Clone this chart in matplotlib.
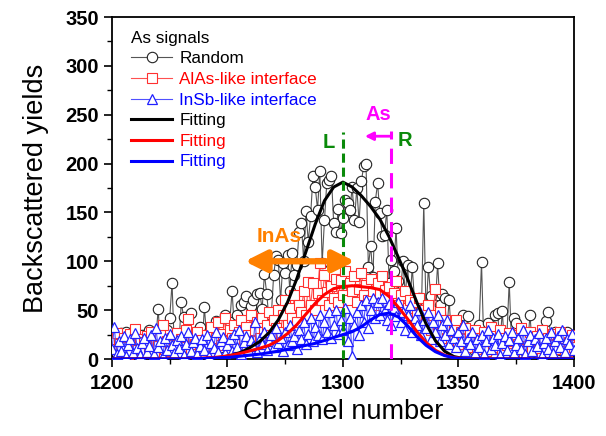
import matplotlib
matplotlib.use("Agg")
import matplotlib.pyplot as plt
import numpy as np

plt.rcParams['font.family'] = ['Liberation Sans', 'DejaVu Sans']

channels = list(range(1200, 1401))

random_yield = [
    12, 8, 20, 5, 27, 10, 28, 6, 15, 22, 9, 18, 4, 25, 11, 7, 30, 14, 9, 21,
    51, 12, 24, 8, 30, 42, 78, 10, 26, 15, 58, 43, 12, 20, 47, 9, 28, 16, 33, 11,
    53, 22, 14, 30, 18, 39, 25, 12, 34, 45, 20,
    38, 70, 30, 45, 28, 55, 58, 64, 40, 54, 60, 35, 67, 68, 51, 87, 67, 40, 45, 86,
    105, 101, 60, 98, 88, 106, 70, 108, 86, 96, 130, 139, 100, 151, 120, 146, 187, 176, 153, 192,
    98, 142, 180, 183, 187, 139, 130, 154, 129, 144, 163, 160, 152, 176, 142, 175, 140, 182, 198, 200,
    94, 116, 84, 161, 180, 149, 126, 127, 153, 78, 101, 90, 134, 80, 70, 100, 65, 96, 55, 94,
    60, 48, 62, 50, 160, 45, 94, 64, 40, 55, 98, 55, 67, 62, 30, 60, 22, 35, 18, 28,
    15, 45, 20, 44, 12, 25, 8, 18, 35, 99, 14, 22, 37, 10, 18, 45, 47, 15, 49, 12,
    24, 79, 16, 42, 37, 10, 22, 19, 8, 15, 45, 12, 20, 6, 14, 25, 10, 39, 48, 20,
    12, 28, 27, 9, 18, 27, 28, 11, 20, 25]

alas_yield = [
    18, 10, 27, 15, 8, 22, 12, 5, 26, 14, 31, 9, 20, 6, 17, 24, 11, 28, 7, 19,
    13, 25, 35, 10, 18, 8, 22, 14, 27, 6, 20, 12, 30, 41, 9, 23, 15, 28, 11, 19,
    7, 25, 16, 33, 12, 21, 38, 14, 26, 42, 18,
    30, 22, 35, 15, 28, 40, 20, 33, 25, 45, 18, 30, 38, 22, 42, 28, 35, 48, 25, 40,
    32, 50, 28, 45, 60, 35, 52, 42, 65, 38, 55, 48, 70, 45, 79, 55, 78, 50, 68, 98,
    60, 86, 69, 55, 75, 62, 82, 58, 81, 66, 90, 60, 78, 70, 85, 58, 72, 88, 65, 76,
    60, 82, 70, 55, 78, 68, 85, 71, 62, 74, 50, 68, 80, 55, 65, 48, 70, 52, 60, 42,
    58, 45, 62, 35, 50, 40, 55, 30, 45, 72, 35, 48, 28, 40, 22, 35, 18, 30, 40, 15,
    28, 20, 32, 12, 25, 18, 30, 10, 22, 15, 28, 8, 20, 33, 12, 24, 16, 30, 9, 22,
    14, 27, 18, 6, 25, 15, 32, 10, 20, 13, 28, 8, 18, 24, 11, 30, 16, 7, 22, 14,
    26, 10, 19, 28, 12, 21, 8, 17, 25, 12]

insb_yield = [
    10, 33, 5, 18, 8, 24, 3, 14, 20, 6, 27, 11, 4, 16, 22, 7, 13, 25, 5, 32,
    12, 18, 3, 21, 9, 26, 14, 6, 19, 11, 24, 4, 15, 28, 8, 17, 22, 5, 13, 20,
    9, 25, 3, 16, 11, 28, 7, 18, 23, 6, 14,
    20, 8, 26, 12, 30, 5, 17, 24, 10, 19, 13, 38, 7, 22, 15, 28, 9, 18, 25, 12,
    32, 16, 22, 8, 28, 14, 35, 18, 24, 10, 30, 20, 38, 15, 26, 42, 18, 33, 25, 45,
    20, 38, 28, 48, 22, 35, 50, 26, 40, 30, 52, 18, 42, 3, 35, 48, 25, 55, 38, 60,
    32, 50, 62, 42, 58, 45, 62, 50, 40, 56, 35, 52, 44, 58, 38, 48, 30, 45, 55, 28,
    42, 35, 50, 25, 40, 32, 48, 20, 38, 28, 45, 18, 35, 25, 40, 15, 30, 22, 12, 28,
    18, 35, 8, 22, 15, 28, 6, 20, 12, 25, 5, 18, 30, 10, 22, 14, 26, 4, 16, 24,
    9, 19, 28, 6, 14, 22, 10, 30, 5, 18, 25, 8, 20, 13, 27, 4, 16, 22, 10, 28,
    6, 18, 24, 12, 30, 7, 20, 15, 26, 9]

fit_channels = [1200, 1232, 1236, 1240, 1244, 1248, 1252, 1256, 1260, 1264, 1268, 1272,
                1276, 1280, 1284, 1288, 1292, 1296, 1300, 1304, 1308, 1312, 1316,
                1320, 1324, 1328, 1332, 1336, 1340, 1344, 1348, 1352, 1356, 1400]
fit_random = [0, 0, 0.3, 0.5, 1, 2, 4, 7, 12, 18, 27, 40, 58, 82, 110, 138, 162, 176,
              181, 176, 167, 156, 143, 125, 104, 82, 58, 36, 19, 8, 2.5, 0.5, 0, 0]
fit_alas = [0, 0, 0.5, 1, 1.5, 2.5, 4, 6, 8.5, 11, 14, 19, 26, 35, 46, 57, 66, 72,
            74, 75, 74, 73, 71, 64, 53, 41, 28, 17, 9, 4, 1.5, 0.5, 0, 0]
fit_insb = [0, 0, 0.3, 0.5, 1, 1.5, 2, 3, 4, 5, 6.5, 8, 10, 12, 14, 16, 19, 22,
            25, 28, 33, 40, 45.5, 47, 43, 34, 23, 14, 7.5, 3.5, 1.2, 0.3, 0, 0]

fig = plt.figure(figsize=(6.06, 4.36), dpi=100)
ax = fig.add_axes([0.1848, 0.1766, 0.947 - 0.1848, 0.961 - 0.1766])

ax.plot(channels, random_yield, color='#555555', lw=0.8, marker='o', ms=7.5,
        mfc='white', mec='#222222', mew=0.8, label='Random', zorder=2)
ax.plot(channels, alas_yield, color='#ff5050', lw=0.8, marker='s', ms=6.8,
        mfc='white', mec='#ff3030', mew=0.8, label='AlAs-like interface', zorder=3)
ax.plot(channels, insb_yield, color='#5050ff', lw=0.8, marker='^', ms=7.8,
        mfc='white', mec='#2020ff', mew=0.9, label='InSb-like interface', zorder=4)
ax.plot(fit_channels, fit_random, color='black', lw=2.2, label='Fitting', zorder=5)
ax.plot(fit_channels, fit_alas, color='#ff0000', lw=2.2, label='Fitting', zorder=5)
ax.plot(fit_channels, fit_insb, color='#0000ff', lw=2.2, label='Fitting', zorder=6)

# L and R lines
ax.plot([1300, 1300], [0, 232], color='#0a8a0a', lw=2.2, dashes=(3, 1.6), zorder=7)
ax.plot([1321, 1321], [0, 233], color='#ff00ff', lw=2.2, dashes=(5, 3), zorder=7)
ax.annotate('', xy=(1309.5, 228), xytext=(1321, 228),
            arrowprops=dict(arrowstyle='-|>', color='#ff00ff', lw=2, mutation_scale=12,
                            shrinkA=0, shrinkB=0), zorder=8)
ax.text(1315.2, 250, 'As', color='#ff00ff', fontsize=14.5, fontweight='bold',
        ha='center', va='center', zorder=8)
ax.text(1294, 222, 'L', color='#0a8a0a', fontsize=14.5, fontweight='bold',
        ha='center', va='center', zorder=8)
ax.text(1327, 224, 'R', color='#0a8a0a', fontsize=14.5, fontweight='bold',
        ha='center', va='center', zorder=8)

# InAs arrow
ax.annotate('', xy=(1257.5, 100), xytext=(1305.2, 100),
            arrowprops=dict(arrowstyle='<|-|>', color='#ff8000', lw=4.5, mutation_scale=32,
                            shrinkA=0, shrinkB=0), zorder=8)
ax.text(1272.5, 125, 'InAs', color='#ff8000', fontsize=15, fontweight='bold',
        ha='center', va='center', zorder=8)

ax.set_xlim(1200, 1400)
ax.set_ylim(0, 350)
ax.set_xticks([1200, 1250, 1300, 1350, 1400])
ax.set_yticks([0, 50, 100, 150, 200, 250, 300, 350])
ax.set_xticks(np.arange(1225, 1400, 50), minor=True)
ax.set_yticks(np.arange(25, 350, 50), minor=True)
ax.tick_params(which='major', direction='out', length=6, width=1.2, labelsize=14.5,
               top=False, right=False)
ax.tick_params(axis='x', which='major', pad=5)
ax.tick_params(which='minor', direction='out', length=3.5, width=1.0,
               top=False, right=False)
for lab in ax.get_xticklabels() + ax.get_yticklabels():
    lab.set_fontweight('bold')
for sp in ax.spines.values():
    sp.set_linewidth(1.3)

ax.set_xlabel('Channel number', fontsize=19.5, labelpad=4)
ax.set_ylabel('Backscattered yields', fontsize=19.5, labelpad=12)

leg = ax.legend(loc='upper left', bbox_to_anchor=(0.02, 0.99), frameon=False,
                title='As signals', fontsize=12.3, title_fontsize=12.3, numpoints=1,
                handlelength=2.4, handletextpad=0.4, labelspacing=0.33,
                borderaxespad=0.2)
leg._legend_box.align = 'left'
cols = ['black', '#ff0000', '#0000ff', 'black', '#ff0000', '#0000ff']
for t, c in zip(leg.get_texts(), cols):
    t.set_color(c)

fig.savefig('out.png', dpi=100)
